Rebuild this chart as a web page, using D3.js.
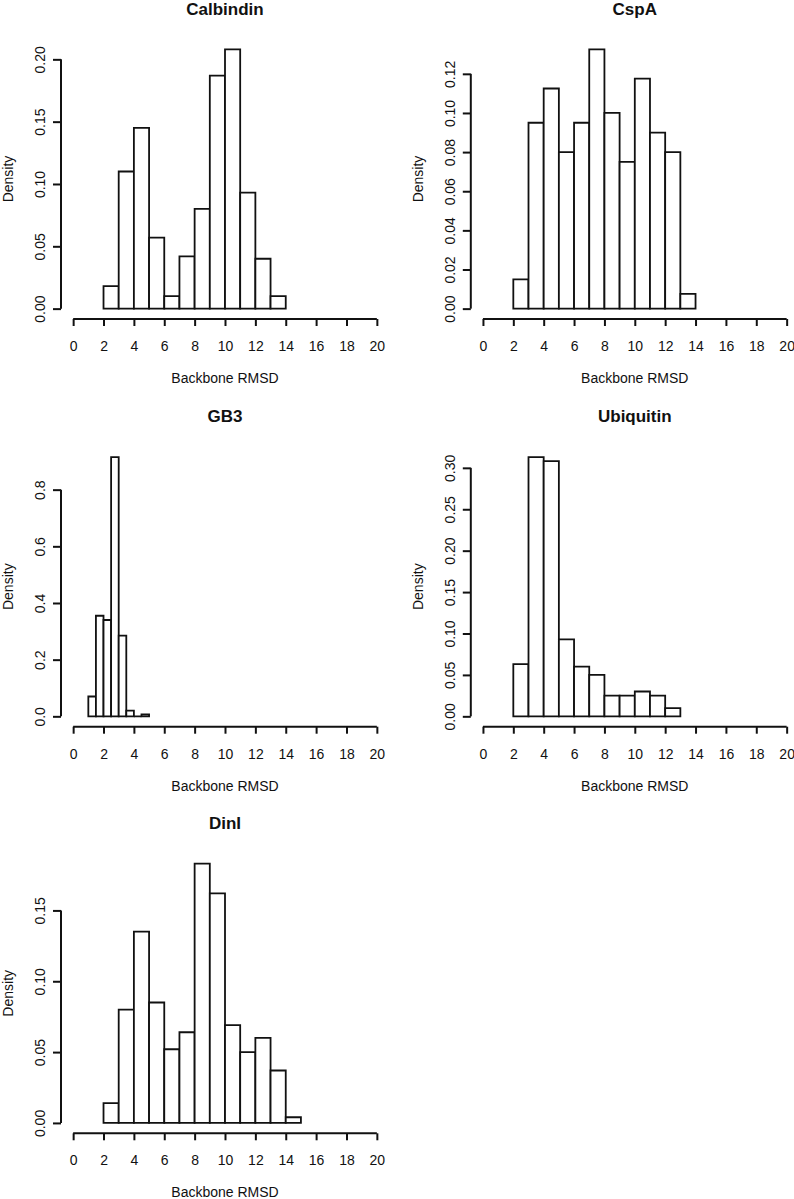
<!DOCTYPE html>
<html>
<head>
<meta charset="utf-8">
<script src="https://cdn.jsdelivr.net/npm/d3@7"></script>
<style>
  html, body { margin: 0; padding: 0; background: #fff; }
  svg { display: block; }
  text { font-family: "Liberation Sans", Arial, Helvetica, sans-serif; fill: #111; }
</style>
</head>
<body>
<svg id="chart" width="794" height="1199"></svg>
<script>
// ---- Data ----
const xTicks = [0, 2, 4, 6, 8, 10, 12, 14, 16, 18, 20];

const calbindinBreaks = [2, 3, 4, 5, 6, 7, 8, 9, 10, 11, 12, 13, 14];
const calbindinDensity = [0.018, 0.110, 0.145, 0.057, 0.010, 0.042, 0.080, 0.187, 0.208, 0.093, 0.040, 0.010];
const calbindinYTicks = [0, 0.05, 0.10, 0.15, 0.20];

const cspaBreaks = [2, 3, 4, 5, 6, 7, 8, 9, 10, 11, 12, 13, 14];
const cspaDensity = [0.015, 0.095, 0.1125, 0.080, 0.095, 0.1325, 0.100, 0.075, 0.1175, 0.090, 0.080, 0.0075];
const cspaYTicks = [0, 0.02, 0.04, 0.06, 0.08, 0.10, 0.12];

const gb3Breaks = [1, 1.5, 2, 2.5, 3, 3.5, 4, 4.5, 5];
const gb3Density = [0.070, 0.355, 0.340, 0.915, 0.285, 0.020, 0.000, 0.007];
const gb3YTicks = [0, 0.2, 0.4, 0.6, 0.8];

const ubiquitinBreaks = [2, 3, 4, 5, 6, 7, 8, 9, 10, 11, 12, 13];
const ubiquitinDensity = [0.063, 0.313, 0.308, 0.093, 0.060, 0.050, 0.025, 0.025, 0.030, 0.025, 0.010];
const ubiquitinYTicks = [0, 0.05, 0.10, 0.15, 0.20, 0.25, 0.30];

const dinIBreaks = [2, 3, 4, 5, 6, 7, 8, 9, 10, 11, 12, 13, 14, 15];
const dinIDensity = [0.014, 0.080, 0.135, 0.085, 0.052, 0.064, 0.183, 0.162, 0.069, 0.050, 0.060, 0.037, 0.004];
const dinIYTicks = [0, 0.05, 0.10, 0.15];

const panelTitles = ["Calbindin", "CspA", "GB3", "Ubiquitin", "DinI"];
const xLabel = "Backbone RMSD";
const yLabel = "Density";

// ---- Layout ----
const svg = d3.select("#chart");
const plotW = 328, plotH = 280;
const colLeft = [61, 470.8];
const rowBottom = [319, 726.7, 1133.3];

const panels = [
  { title: panelTitles[0], breaks: calbindinBreaks, dens: calbindinDensity, yTicks: calbindinYTicks, fmt: ".2f", col: 0, row: 0 },
  { title: panelTitles[1], breaks: cspaBreaks, dens: cspaDensity, yTicks: cspaYTicks, fmt: ".2f", col: 1, row: 0 },
  { title: panelTitles[2], breaks: gb3Breaks, dens: gb3Density, yTicks: gb3YTicks, fmt: ".1f", col: 0, row: 1 },
  { title: panelTitles[3], breaks: ubiquitinBreaks, dens: ubiquitinDensity, yTicks: ubiquitinYTicks, fmt: ".2f", col: 1, row: 1 },
  { title: panelTitles[4], breaks: dinIBreaks, dens: dinIDensity, yTicks: dinIYTicks, fmt: ".2f", col: 0, row: 2 }
];

panels.forEach(p => {
  const L = colLeft[p.col];
  const B = rowBottom[p.row];
  const T = B - plotH;
  const ymax = d3.max(p.dens);

  const x = d3.scaleLinear().domain([-0.8, 20.8]).range([L, L + plotW]);
  const y = d3.scaleLinear().domain([-0.04 * ymax, 1.04 * ymax]).range([B, T]);

  const g = svg.append("g");

  // bars (paths so that zero-height bins still show as a base line, as in R)
  const bins = p.dens.map((d, i) => ({ x0: p.breaks[i], x1: p.breaks[i + 1], d }));
  g.selectAll("path.bar").data(bins).enter().append("path")
    .attr("class", "bar")
    .attr("d", b => `M${x(b.x0)},${y(0)}V${y(b.d)}H${x(b.x1)}V${y(0)}Z`)
    .attr("fill", "#fff")
    .attr("stroke", "#111")
    .attr("stroke-width", 1.8);

  // x axis
  const xa = g.append("g").attr("transform", `translate(0,${B})`)
    .call(d3.axisBottom(x).tickValues(xTicks).tickSize(7).tickSizeOuter(0).tickFormat(d3.format("d")));
  xa.select(".domain").remove();
  xa.append("line").attr("x1", x(xTicks[0])).attr("x2", x(xTicks[xTicks.length - 1]))
    .attr("y1", 0).attr("y2", 0).attr("stroke", "#111").attr("stroke-width", 2);
  xa.selectAll(".tick line").attr("stroke", "#111").attr("stroke-width", 2);
  xa.selectAll(".tick text").attr("y", 32).attr("dy", 0)
    .style("font-size", "14px").style("font-family", "Liberation Sans, Arial, sans-serif").attr("fill", "#111");

  // y axis
  const ya = g.append("g").attr("transform", `translate(${L},0)`)
    .call(d3.axisLeft(y).tickValues(p.yTicks).tickSize(8).tickSizeOuter(0).tickFormat(d3.format(p.fmt)));
  ya.select(".domain").remove();
  ya.append("line").attr("x1", 0).attr("x2", 0)
    .attr("y1", y(p.yTicks[0])).attr("y2", y(p.yTicks[p.yTicks.length - 1]))
    .attr("stroke", "#111").attr("stroke-width", 2);
  ya.selectAll(".tick line").attr("stroke", "#111").attr("stroke-width", 2);
  ya.selectAll(".tick text")
    .attr("transform", "rotate(-90)")
    .attr("x", 0).attr("y", -16).attr("dy", 0)
    .attr("text-anchor", "middle")
    .style("font-size", "14px").style("font-family", "Liberation Sans, Arial, sans-serif").attr("fill", "#111");

  // title
  g.append("text").attr("x", L + plotW / 2).attr("y", T - 24.5)
    .attr("text-anchor", "middle").style("font-size", "17px").style("font-weight", "bold")
    .text(p.title);

  // x label
  g.append("text").attr("x", L + plotW / 2).attr("y", B + 64)
    .attr("text-anchor", "middle").style("font-size", "14px")
    .text(xLabel);

  // y label
  g.append("text")
    .attr("transform", `translate(${L - 48},${(T + B) / 2}) rotate(-90)`)
    .attr("text-anchor", "middle").style("font-size", "14px")
    .text(yLabel);
});
</script>
</body>
</html>
